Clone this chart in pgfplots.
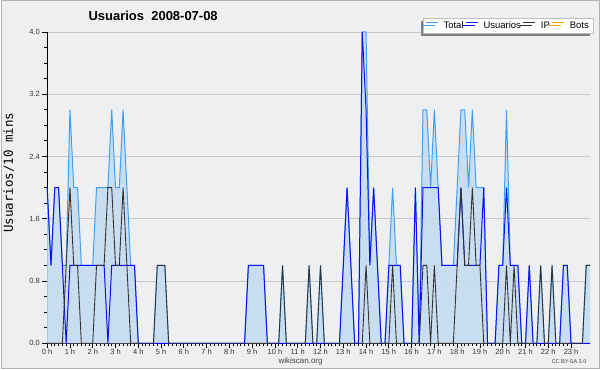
\documentclass[border=0pt]{standalone}
\usepackage{pgfplots}
\pgfplotsset{compat=1.18}
\usepackage{pgfplotstable}
\usepackage{fontspec}
\setmainfont{Liberation Sans}
\newfontfamily\monofont{DejaVu Sans Mono}
\usetikzlibrary{shadows}
\definecolor{bgc}{RGB}{238,239,241}
\definecolor{gridc}{RGB}{200,200,202}
\definecolor{fillc}{RGB}{197,220,240}
\definecolor{totalc}{RGB}{60,160,245}
\definecolor{usersc}{RGB}{15,15,245}
\definecolor{ipc}{RGB}{50,50,50}
\definecolor{botsc}{RGB}{255,165,0}

\pgfplotstableread{
i total users ip
0 2 2 0
1 1 1 0
2 2 2 0
3 2 2 0
4 1 1 0
5 1 0 1
6 3 1 2
7 2 1 1
8 2 1 1
9 1 1 0
10 1 1 0
11 1 1 0
12 1 1 0
13 2 1 1
14 2 1 1
15 2 1 1
16 2 0 2
17 3 1 2
18 2 1 1
19 2 1 1
20 3 1 2
21 2 1 1
22 1 1 0
23 1 1 0
24 0 0 0
25 0 0 0
26 0 0 0
27 0 0 0
28 0 0 0
29 1 0 1
30 1 0 1
31 1 0 1
32 0 0 0
33 0 0 0
34 0 0 0
35 0 0 0
36 0 0 0
37 0 0 0
38 0 0 0
39 0 0 0
40 0 0 0
41 0 0 0
42 0 0 0
43 0 0 0
44 0 0 0
45 0 0 0
46 0 0 0
47 0 0 0
48 0 0 0
49 0 0 0
50 0 0 0
51 0 0 0
52 0 0 0
53 1 1 0
54 1 1 0
55 1 1 0
56 1 1 0
57 1 1 0
58 0 0 0
59 0 0 0
60 0 0 0
61 0 0 0
62 1 0 1
63 0 0 0
64 0 0 0
65 0 0 0
66 0 0 0
67 0 0 0
68 0 0 0
69 1 0 1
70 0 0 0
71 0 0 0
72 1 0 1
73 0 0 0
74 0 0 0
75 0 0 0
76 0 0 0
77 0 0 0
78 1 1 0
79 2 2 0
80 1 1 0
81 0 0 0
82 0 0 0
83 4 4 0
84 4 3 1
85 1 1 0
86 2 2 0
87 1 1 0
88 0 0 0
89 0 0 0
90 1 1 0
91 2 1 1
92 1 1 0
93 1 1 0
94 0 0 0
95 0 0 0
96 0 0 0
97 2 2 0
98 0 0 0
99 3 2 1
100 3 2 1
101 2 2 0
102 3 2 1
103 2 2 0
104 1 1 0
105 1 1 0
106 1 1 0
107 1 1 0
108 2 1 1
109 3 2 2
110 3 1 1
111 2 1 1
112 3 1 2
113 2 1 1
114 2 1 1
115 2 2 0
116 0 0 0
117 0 0 0
118 0 0 0
119 1 1 0
120 1 1 0
121 3 2 1
122 1 1 0
123 1 1 1
124 1 1 0
125 0 0 0
126 0 0 0
127 1 1 0
128 0 0 0
129 0 0 0
130 1 0 1
131 0 0 0
132 0 0 0
133 1 0 1
134 0 0 0
135 0 0 0
136 1 1 0
137 1 1 0
138 0 0 0
139 0 0 0
140 0 0 0
141 0 0 0
142 1 0 1
143 1 0 1
}\datatable

\begin{document}
\begin{tikzpicture}[x=1pt,y=1pt]
\fill[bgc] (0,0) rectangle (600,370);
\draw[gray!60, line width=1pt] (0.5,0.5) rectangle (599.5,369.5);
\begin{axis}[
  at={(46pt,26pt)}, anchor=south west,
  scale only axis, width=544pt, height=312pt,
  xmin=0, xmax=143, ymin=0, ymax=4,
  axis x line*=bottom, axis y line*=left,
  axis line style={black, line width=0.9pt, -},
  tick align=outside,
  tick style={black, line width=0.8pt},
  xtick={0,6,...,138},
  xticklabels={0 h,1 h,2 h,3 h,4 h,5 h,6 h,7 h,8 h,9 h,10 h,11 h,12 h,13 h,14 h,15 h,16 h,17 h,18 h,19 h,20 h,21 h,22 h,23 h},
  minor x tick num=5,
  ytick={0,0.8,1.6,2.4,3.2,4.0},
  yticklabel style={/pgf/number format/fixed, /pgf/number format/fixed zerofill, /pgf/number format/precision=1, xshift=1pt},
  minor y tick num=3,
  major tick length=5pt, minor tick length=3pt,
  ymajorgrids, grid style={gridc, line width=0.7pt},
  tick label style={font=\fontsize{7.5}{9}\selectfont, text=black!80},
  xticklabel style={yshift=3pt},
  /pgf/number format/assume math mode=true,
  ylabel={Usuarios/10 mins},
  ylabel style={at={(axis description cs:-0.071,0.548)}, anchor=center, font=\monofont\fontsize{12.5}{14}\selectfont},
  clip=false,
  legend columns=4,
  legend style={at={(1.0055,1.0458)}, anchor=north east, draw=gray!50, fill=white,
    font=\fontsize{9.5}{11}\selectfont, inner xsep=2pt, inner ysep=1.5pt,
    general shadow={fill=gray, shadow xshift=-3pt, shadow yshift=-3pt},
    /tikz/every even column/.append style={column sep=0pt}},
  legend image code/.code={\draw[#1, line width=1pt] (0pt,3.2pt) -- (11.5pt,3.2pt);},
]
\addplot[fill=fillc, fill opacity=0.9, draw=none, forget plot] table[x=i, y=total] {\datatable} \closedcycle;
\addplot[totalc, line width=1pt, forget plot] table[x=i, y=total] {\datatable};
\addplot[usersc, line width=1pt, forget plot] table[x=i, y=users] {\datatable};
\addplot[ipc, line width=0.9pt, forget plot] table[x=i, y=ip] {\datatable};
\addlegendimage{totalc}\addlegendentry{\hspace{3.5pt}Total}
\addlegendimage{usersc}\addlegendentry{\hspace{3.5pt}Usuarios}
\addlegendimage{ipc}\addlegendentry{\hspace{3.5pt}IP}
\addlegendimage{botsc}\addlegendentry{\hspace{3.5pt}Bots}
\end{axis}
\node[anchor=west, font=\bfseries\fontsize{13}{15}\selectfont] at (84,354) {Usuarios\ \ 2008-07-08};
\node[font=\fontsize{8}{9}\selectfont, text=black!75] at (300,8) {wikiscan.org};
\node[font=\fontsize{5.5}{6}\selectfont, text=black!75] at (569,8) {CC BY-SA 3.0};
\end{tikzpicture}
\end{document}
